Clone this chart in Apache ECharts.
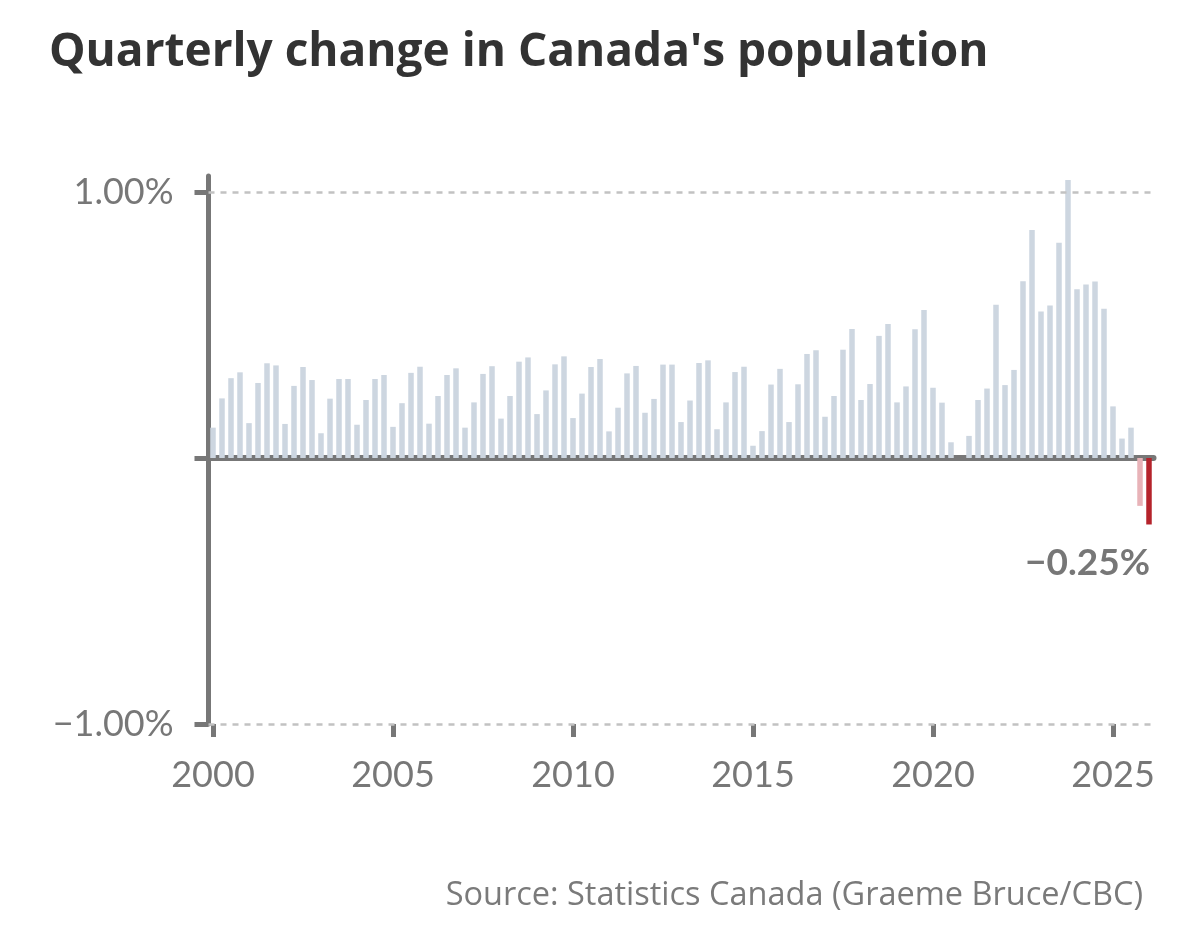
<!DOCTYPE html>
<html>
<head>
<meta charset="utf-8">
<title>Quarterly change in Canada's population</title>
<script src="https://cdn.jsdelivr.net/npm/echarts@6/dist/echarts.min.js"></script>
<style>
  html, body { margin: 0; padding: 0; background: #fff; }
  #chart { width: 1200px; height: 945px; }
</style>
</head>
<body>
<div id="chart"></div>
<script>
// quarterly population change, %
var years = [2000, 2001, 2002, 2003, 2004, 2005, 2006, 2007, 2008, 2009, 2010, 2011, 2012,
             2013, 2014, 2015, 2016, 2017, 2018, 2019, 2020, 2021, 2022, 2023, 2024, 2025, 2026];
var quarterNames = ['Q1', 'Q2', 'Q3', 'Q4'];

var changeValues = [
  0.114, 0.224, 0.300, 0.322,   // 2000
  0.131, 0.282, 0.356, 0.348,   // 2001
  0.128, 0.271, 0.342, 0.293,   // 2002
  0.093, 0.223, 0.297, 0.297,   // 2003
  0.125, 0.218, 0.297, 0.312,   // 2004
  0.117, 0.206, 0.320, 0.343,   // 2005
  0.129, 0.233, 0.312, 0.337,   // 2006
  0.114, 0.209, 0.316, 0.345,   // 2007
  0.148, 0.233, 0.362, 0.378,   // 2008
  0.165, 0.254, 0.352, 0.382,   // 2009
  0.150, 0.242, 0.342, 0.372,   // 2010
  0.100, 0.189, 0.318, 0.346,   // 2011
  0.170, 0.222, 0.351, 0.351,   // 2012
  0.135, 0.216, 0.357, 0.367,   // 2013
  0.108, 0.209, 0.323, 0.343,   // 2014
  0.046, 0.101, 0.276, 0.335,   // 2015
  0.135, 0.277, 0.391, 0.405,   // 2016
  0.155, 0.233, 0.407, 0.485,   // 2017
  0.218, 0.278, 0.459, 0.504,   // 2018
  0.209, 0.269, 0.484, 0.556,   // 2019
  0.264, 0.208, 0.059, 0.000,   // 2020
  0.083, 0.218, 0.261, 0.576,   // 2021
  0.274, 0.331, 0.664, 0.857,   // 2022
  0.551, 0.573, 0.809, 1.045,   // 2023
  0.634, 0.652, 0.663, 0.561,   // 2024
  0.194, 0.073, 0.114, -0.180,  // 2025
  -0.250                        // 2026
];

var yTickValues = [-1, 0, 1];
var yLabelValues = [-1, 1];
var yearTickLabels = ['2000', '2005', '2010', '2015', '2020', '2025'];

var categories = [];
for (var i = 0; i < years.length; i++) {
  for (var q = 0; q < 4; q++) {
    if (categories.length < changeValues.length) {
      categories.push(years[i] + ' ' + quarterNames[q]);
    }
  }
}

var axisGrey = '#777777';
var barGrey = '#cdd6e0';
var pink = '#e8b3b8';
var red = '#b5232b';

function fmtPct(v) {
  var s = Math.abs(v).toFixed(2) + '%';
  return v < 0 ? '\u2212' + s : s;
}

var lastIdx = changeValues.length - 1;
var barData = [];
for (var k = 0; k < changeValues.length; k++) {
  var item = { value: changeValues[k] };
  if (k == lastIdx - 1) {
    item.itemStyle = { color: pink };
  } else if (k == lastIdx) {
    item.itemStyle = { color: red };
    item.label = {
      show: true,
      position: 'bottom',
      distance: 20,
      align: 'right',
      offset: [1, 0],
      formatter: function (p) { return fmtPct(p.value); },
      fontFamily: 'Lato',
      fontWeight: 'bold',
      fontSize: 37,
      color: axisGrey
    };
  }
  barData.push(item);
}

var myChart = echarts.init(document.getElementById('chart'), null, { renderer: 'canvas' });

var option = {
  backgroundColor: '#ffffff',
  animation: false,
  title: [{
    text: "Quarterly change in Canada's population",
    left: 44,
    top: 25,
    textStyle: { fontFamily: 'Open Sans', fontWeight: 'bold', fontSize: 46, color: '#333333' }
  }, {
    text: 'Source: Statistics Canada (Graeme Bruce/CBC)',
    right: 52,
    top: 874,
    textStyle: { fontFamily: 'Open Sans', fontWeight: 'normal', fontSize: 32.5, color: '#7a7a7a' }
  }],
  grid: {
    left: 208.5,
    right: 46.5,
    top: 176,
    bottom: 221,
    containLabel: false
  },
  xAxis: [{
    // bottom axis: year ticks and labels only
    type: 'category',
    data: categories,
    position: 'bottom',
    axisLine: { show: false, onZero: false },
    axisTick: {
      show: true,
      alignWithLabel: true,
      interval: function (idx) { return idx % 20 === 0; },
      length: 13,
      lineStyle: { color: axisGrey, width: 5 }
    },
    axisLabel: {
      interval: function (idx) { return idx % 20 === 0; },
      formatter: function (val, idx) { return yearTickLabels[idx / 20]; },
      margin: 33,
      fontFamily: 'Lato',
      fontSize: 36,
      color: axisGrey
    },
    splitLine: { show: false }
  }, {
    // zero line
    type: 'category',
    data: categories,
    position: 'top',
    axisLine: { show: true, onZero: true, lineStyle: { color: axisGrey, width: 6 } },
    axisTick: { show: false },
    axisLabel: { show: false },
    splitLine: { show: false }
  }],
  yAxis: {
    type: 'value',
    min: -1,
    max: 1.06,
    interval: 1,
    axisLine: { show: true, lineStyle: { color: axisGrey, width: 5 } },
    axisTick: {
      show: true,
      customValues: yTickValues,
      length: 14,
      lineStyle: { color: axisGrey, width: 5 }
    },
    axisLabel: {
      customValues: yLabelValues,
      formatter: function (v) { return fmtPct(v); },
      margin: 35,
      fontFamily: 'Lato',
      fontSize: 36,
      color: axisGrey
    },
    splitLine: { show: false }
  },
  series: [{
    name: 'Quarterly change',
    type: 'bar',
    xAxisIndex: 0,
    data: barData,
    barWidth: 5.5,
    itemStyle: { color: barGrey },
    silent: true,
    markLine: {
      silent: true,
      symbol: 'none',
      label: { show: false },
      lineStyle: { color: '#c2c2c2', type: [6, 6], width: 2.5 },
      data: [{ yAxis: 1 }, { yAxis: -1 }]
    },
    z: 2
  }]
};

myChart.setOption(option);
</script>
</body>
</html>
